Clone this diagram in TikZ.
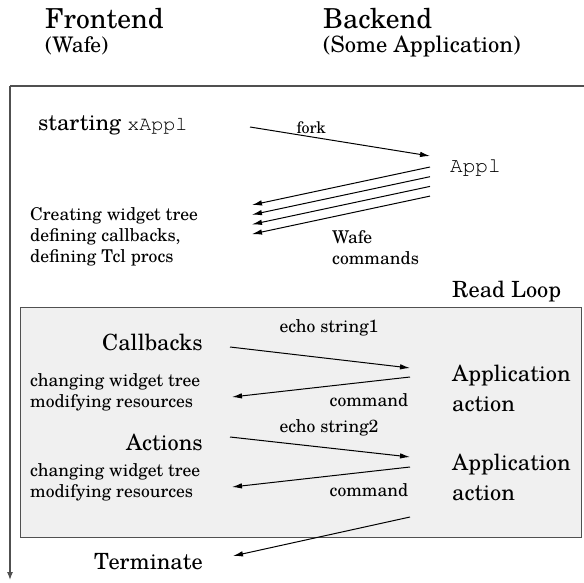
\documentclass[tikz,border=0pt]{standalone}
\usepackage{fontspec}
\setmainfont{TeX Gyre Schola}
\setmonofont{TeX Gyre Cursor}
\usepackage{tikz}
\usetikzlibrary{positioning}
\usetikzlibrary{arrows.meta}
\definecolor{loopfill}{RGB}{240,240,240}
\definecolor{framegray}{RGB}{80,80,80}
\tikzset{
  head/.style={font=\fontsize{27.5}{32}\selectfont,inner sep=0pt},
  sub/.style={font=\fontsize{21.5}{26}\selectfont,inner sep=0pt},
  big/.style={font=\fontsize{22.3}{30}\selectfont,inner sep=0pt,align=left},
  small/.style={font=\fontsize{17.6}{21}\selectfont,inner sep=0pt,align=left},
  msg/.style={->,line width=1pt,>={Latex[length=10pt,width=5.5pt]}},
}

\begin{document}
\begin{tikzpicture}[x=1pt,y=-1pt]
\useasboundingbox (0,0) rectangle (584,583);

%titles
\node (fe) at (45,19) [head,anchor=west] {Frontend};
\node (fewafe) at (45,46) [sub,anchor=west] {(Wafe)};
\node (be) at (323,19) [head,anchor=west] {Backend};
\node (beapp) at (323,46) [sub,anchor=west,font=\fontsize{22.5}{26}\selectfont] {(Some Application)};

%time frame
\coordinate (corner) at (10,86);
\coordinate (topend) at (584,86);
\coordinate (timeend) at (10,580);
\draw [framegray,line width=1.2pt] (topend) -- (corner);
\draw [framegray,line width=1.2pt,->,>={Latex[length=8pt,width=6pt]}] (corner) -- (timeend);

%startup
\node (start) at (38,125) [big,anchor=west] {starting \texttt{\fontsize{20}{24}\selectfont xAppl}};
\node (appl) at (450,168) [anchor=west,inner sep=0pt,font=\ttfamily\fontsize{21}{24}\selectfont] {Appl};
\node (create) at (30,237) [small,anchor=west] {Creating widget tree\\defining callbacks,\\defining Tcl procs};
\node (wafecmd) at (332,248) [small,anchor=west] {Wafe\\commands};
\coordinate (forkA) at (250,127);
\coordinate (forkB) at (430,156);
\draw [msg] (forkA) -- (forkB) node (fork) [pos=0.34,above=3pt,small,font=\fontsize{16}{19}\selectfont] {fork};
\coordinate (tclA) at (430,167);
\coordinate (tclB) at (252,205);
\foreach \i in {0,...,3}{
  \draw [msg] ([yshift=-\i*9.7pt]tclA) -- ([yshift=-\i*9.7pt]tclB);
}

%read loop
\node (readloop) at (452,292) [big,anchor=west] {Read Loop};
\node (loopbox) at (300.5,422) [draw=framegray,fill=loopfill,line width=1pt,minimum width=561pt,minimum height=230pt] {};

\node (callbacks) at (203,342) [big,anchor=east] {Callbacks};
\node (echo1) at (329,328) [small] {echo string1};
\node (app1) at (452,388) [big,anchor=west] {Application\\action};
\node (change1) at (30,392) [small,anchor=west] {changing widget tree\\modifying resources};
\node (cmd1) at (369,400) [small] {command};
\coordinate (echo1A) at (230,347);
\coordinate (echo1B) at (410,368);
\coordinate (cmd1A) at (410,377);
\coordinate (cmd1B) at (232,397);
\draw [msg] (echo1A) -- (echo1B);
\draw [msg] (cmd1A) -- (cmd1B);

\node (actions) at (203,442) [big,anchor=east] {Actions};
\node (echo2) at (329,428) [small] {echo string2};
\node (app2) at (452,477) [big,anchor=west] {Application\\action};
\node (change2) at (30,482) [small,anchor=west] {changing widget tree\\modifying resources};
\node (cmd2) at (369,490) [small] {command};
\coordinate (echo2A) at (230,437);
\coordinate (echo2B) at (410,457);
\coordinate (cmd2A) at (410,467);
\coordinate (cmd2B) at (232,487);
\draw [msg] (echo2A) -- (echo2B);
\draw [msg] (cmd2A) -- (cmd2B);

%end
\node (terminate) at (203,562) [big,anchor=east] {Terminate};
\coordinate (termA) at (410,517);
\coordinate (termB) at (233,556);
\draw [msg] (termA) -- (termB);
\end{tikzpicture}
\end{document}
